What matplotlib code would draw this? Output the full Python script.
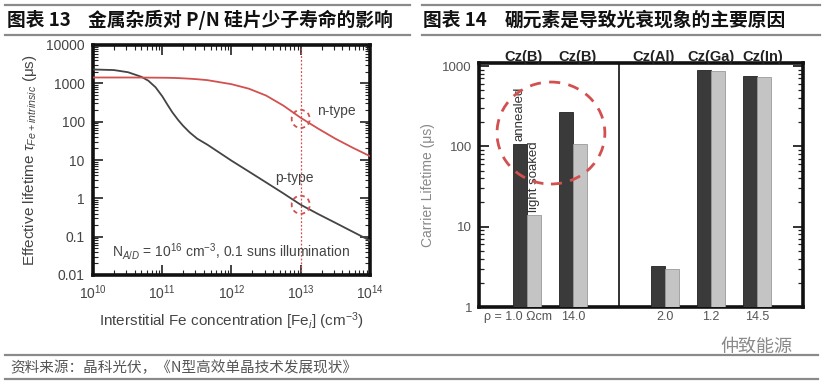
import matplotlib
matplotlib.use("Agg")
import matplotlib.pyplot as plt
from matplotlib.lines import Line2D
from matplotlib.patches import Ellipse
from matplotlib.ticker import LogLocator, NullFormatter, FixedLocator, FixedFormatter
import numpy as np

plt.rcParams['font.family'] = ['Liberation Sans', 'Noto Sans CJK SC', 'DejaVu Sans']
plt.rcParams['mathtext.fontset'] = 'custom'
plt.rcParams['mathtext.rm'] = 'Liberation Sans'
plt.rcParams['mathtext.it'] = 'Liberation Sans:italic'
plt.rcParams['mathtext.bf'] = 'Liberation Sans:bold'

# ---------------- data ----------------
# Left chart: effective lifetime vs interstitial Fe concentration
fe_conc = [1.0e10, 2.0e10, 3.2e10, 5.0e10, 6.3e10, 8.0e10, 1.0e11, 1.2e11, 1.4e11,
           1.7e11, 2.0e11, 2.5e11, 3.2e11, 4.5e11, 1.0e12, 1.78e12, 3.16e12,
           5.6e12, 1.0e13, 1.78e13, 3.16e13, 5.6e13, 1.0e14]
p_type_lifetime = [2300, 2220, 1950, 1480, 1170, 790, 460, 270, 175,
                   110, 78, 52, 36, 25, 9.6, 5.0, 2.6,
                   1.35, 0.68, 0.39, 0.23, 0.135, 0.079]
n_type_lifetime = [1420, 1420, 1420, 1415, 1410, 1405, 1400, 1395, 1385,
                   1370, 1350, 1320, 1280, 1210, 950, 725, 480,
                   263, 126, 66, 36, 21, 12.6]
marked_conc = 1.0e13
marked_n = 118
marked_p = 0.68
left_yticks = [10000, 1000, 100, 10, 1, 0.1, 0.01]
left_yticklabels = ['10000', '1000', '100', '10', '1', '0.1', '0.01']
left_xticks = [1e10, 1e11, 1e12, 1e13, 1e14]
left_xticklabels = [r'10$^{10}$', r'10$^{11}$', r'10$^{12}$', r'10$^{13}$', r'10$^{14}$']

# Right chart: carrier lifetime by material
materials = ['Cz(B)', 'Cz(B)', 'Cz(Al)', 'Cz(Ga)', 'Cz(In)']
resistivity = ['ρ = 1.0 Ωcm', '14.0', '2.0', '1.2', '14.5']
annealed = [108, 270, 3.2, 880, 750]
light_soaked = [14, 108, 2.95, 865, 740]

# ---------------- figure ----------------
fig = plt.figure(figsize=(8.29, 3.87), dpi=100)
W, H = 829.0, 387.0

def fx(px):
    return px / W

def fy(py):
    return 1 - py / H

red = '#d2504f'
grey_txt = '#444444'

# header / footer lines
for (x0, x1, y) in [(5, 410, 5), (5, 410, 35), (422, 820, 5), (422, 820, 35),
                    (5, 818, 355), (5, 818, 379)]:
    fig.add_artist(Line2D([fx(x0), fx(x1)], [fy(y), fy(y)], color='#8a8a8a',
                          lw=1.6, transform=fig.transFigure))

title_kw = dict(fontsize=13.5, fontweight='bold', family=['Noto Sans CJK SC', 'DejaVu Sans'],
                color='#111111', va='center', ha='left')
fig.text(fx(7), fy(20), '图表 13', **title_kw)
fig.text(fx(88), fy(20), '金属杂质对 P/N 硅片少子寿命的影响', **title_kw)
fig.text(fx(423), fy(20), '图表 14', **title_kw)
fig.text(fx(505), fy(20), '硼元素是导致光衰现象的主要原因', **title_kw)

fig.text(fx(10), fy(368), '资料来源：晶科光伏，《N型高效单晶技术发展现状》', fontsize=10.5,
         family=['Noto Sans CJK SC', 'DejaVu Sans'], color='#555555', va='center', ha='left')
fig.text(fx(720), fy(347), '仲致能源', fontsize=13, family=['Noto Sans CJK SC', 'DejaVu Sans'],
         color='#8a8a8a', va='center', ha='left')

# ---------------- left chart ----------------
axL = fig.add_axes([fx(93), fy(275), fx(370) - fx(93), fy(45) - fy(275)])
axL.set_xscale('log')
axL.set_yscale('log')
axL.set_xlim(1e10, 1e14)
axL.set_ylim(0.01, 10000)

axL.plot(fe_conc, p_type_lifetime, color='#444444', lw=1.3, zorder=3)
axL.plot(fe_conc, n_type_lifetime, color=red, lw=1.3, zorder=3)
axL.axvline(marked_conc, color=red, ls=(0, (1.5, 1.5)), lw=0.9, zorder=2)
axL.scatter([marked_conc, marked_conc], [marked_n, marked_p], s=170, facecolors='none',
            edgecolors=red, linewidths=1.3, linestyles=(0, (2.5, 2)), zorder=4)

axL.text(10**13.23, 185, 'n-type', fontsize=10, color=grey_txt, va='center', ha='left')
axL.text(10**12.63, 3.3, 'p-type', fontsize=10, color=grey_txt, va='center', ha='left')
axL.text(10**10.27, 0.04, r'N$_{A/D}$ = 10$^{16}$ cm$^{-3}$, 0.1 suns illumination',
         fontsize=10, color=grey_txt, va='center', ha='left')

axL.xaxis.set_major_locator(FixedLocator(left_xticks))
axL.xaxis.set_major_formatter(FixedFormatter(left_xticklabels))
axL.xaxis.set_minor_locator(LogLocator(base=10, subs=np.arange(2, 10), numticks=20))
axL.xaxis.set_minor_formatter(NullFormatter())
axL.yaxis.set_major_locator(FixedLocator(left_yticks))
axL.yaxis.set_major_formatter(FixedFormatter(left_yticklabels))
axL.yaxis.set_minor_locator(LogLocator(base=10, subs=np.arange(2, 10), numticks=20))
axL.yaxis.set_minor_formatter(NullFormatter())
axL.tick_params(which='both', direction='in', top=True, right=True, colors='#222222',
                labelcolor=grey_txt, labelsize=10)
axL.tick_params(which='major', length=7, width=1.2, pad=6)
axL.tick_params(which='minor', length=3.5, width=0.8)
for s in axL.spines.values():
    s.set_linewidth(2.6)
    s.set_color('#111111')
axL.set_xlabel(r'Interstitial Fe concentration [Fe$_i$] (cm$^{-3}$)', fontsize=11,
               color=grey_txt, labelpad=6)
axL.set_ylabel(r'Effective lifetime $\tau_{Fe+intrinsic}$ (μs)', fontsize=11,
               color=grey_txt, labelpad=5)

# ---------------- right chart ----------------
axR = fig.add_axes([fx(479), fy(307), fx(803) - fx(479), fy(63) - fy(307)])
axR.set_yscale('log')
axR.set_ylim(1, 1090)
axR.set_xlim(-0.04, 7.0)

pos = np.array([1, 2, 4, 5, 6], dtype=float)
label_shift = [-0.08, 0.1, -0.25, 0.0, 0.13]
bw = 0.3
axR.bar(pos - bw / 2, annealed, width=bw, color='#3a3a3a', edgecolor='#222222', lw=0.6, zorder=3)
axR.bar(pos + bw / 2, light_soaked, width=bw, color='#c4c4c4', edgecolor='#9a9a9a', lw=0.6, zorder=3)
axR.axvline(3.0, color='#222222', lw=1.3, zorder=2)

axR.text(pos[0] - bw / 2, 118, 'annealed', rotation=90, fontsize=9.5, color='#333333',
         ha='center', va='bottom')
axR.text(pos[0] + bw / 2, 15.2, 'light soaked', rotation=90, fontsize=9.5, color='#333333',
         ha='center', va='bottom')

axR.add_patch(Ellipse((0.222, 0.713), 0.333, 0.418, transform=axR.transAxes, fill=False,
                      edgecolor=red, lw=2.0, ls=(0, (4, 3)), zorder=5, clip_on=False))

for i, (m, r) in enumerate(zip(materials, resistivity)):
    axR.text(pos[i] + label_shift[i], 1.025, m, transform=axR.get_xaxis_transform(),
             fontsize=10.5, fontweight='bold', color='#222222', ha='center', va='center')
    if i == 0:
        axR.text(pos[i] + 0.55, -0.042, r, transform=axR.get_xaxis_transform(), fontsize=9,
                 color='#555555', ha='right', va='center')
    else:
        axR.text(pos[i], -0.042, r, transform=axR.get_xaxis_transform(), fontsize=9,
                 color='#555555', ha='center', va='center')

axR.set_xticks([])
axR.yaxis.set_major_locator(FixedLocator([1, 10, 100, 1000]))
axR.yaxis.set_major_formatter(FixedFormatter(['1', '10', '100', '1000']))
axR.yaxis.set_minor_locator(LogLocator(base=10, subs=np.arange(2, 10), numticks=20))
axR.yaxis.set_minor_formatter(NullFormatter())
axR.tick_params(axis='y', which='both', direction='in', left=True, right=True,
                colors='#222222', labelcolor='#555555', labelsize=9.5)
axR.tick_params(axis='y', which='major', length=7, width=1.3, pad=5)
axR.tick_params(axis='y', which='minor', length=3.5, width=0.9)
for s in axR.spines.values():
    s.set_linewidth(2.6)
    s.set_color('#111111')
axR.set_ylabel('Carrier Lifetime (μs)', fontsize=10, color='#888888', labelpad=5)

fig.savefig('out.png', dpi=100)
